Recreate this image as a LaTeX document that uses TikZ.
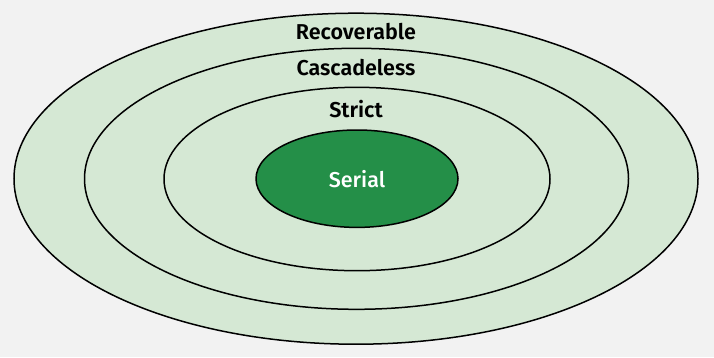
\documentclass[tikz,border=0pt]{standalone}
\usepackage{fontspec}
\setmainfont{Fira Sans}[UprightFont=* Medium, BoldFont=* SemiBold]
\definecolor{bgc}{HTML}{F2F2F2}
\definecolor{lightg}{HTML}{D5E8D4}
\definecolor{darkg}{HTML}{248F48}
\begin{document}
\begin{tikzpicture}[x=1pt,y=-1pt,
  ring/.style={draw=black,line width=1.5pt,fill=lightg},
  lbl/.style={font=\fontsize{21.5}{24}\selectfont\bfseries,text=black,inner sep=0pt}]
\fill[bgc] (0,0) rectangle (714,357);
\useasboundingbox (0,0) rectangle (714,357);
\draw[ring] (356,178.7) ellipse [x radius=342,y radius=165.5];
\draw[ring] (356.5,178.8) ellipse [x radius=272,y radius=130.5];
\draw[ring] (357,179) ellipse [x radius=193,y radius=91.7];
\draw[draw=black,line width=1.5pt,fill=darkg] (357,178.7) ellipse [x radius=101,y radius=48.7];
\node[lbl] (rec) at (356,32) {Recoverable};
\node[lbl] (cas) at (356,68) {Cascadeless};
\node[lbl] (str) at (356,109) {Strict};
\node[lbl,text=white,font=\fontsize{21.5}{24}\selectfont\mdseries] (ser) at (357,179) {Serial};
\end{tikzpicture}
\end{document}
